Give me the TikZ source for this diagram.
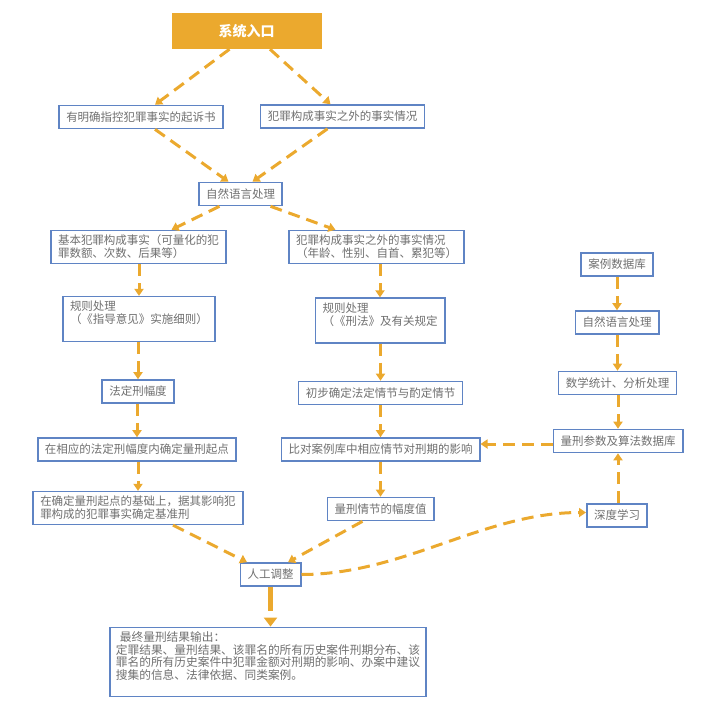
\documentclass[tikz,border=0pt]{standalone}
\usepackage{fontspec}
\setmainfont{Noto Sans CJK SC}
\usepackage{tikz}
\usepackage{xcolor}
\usetikzlibrary{arrows.meta}

\definecolor{flow}{HTML}{EBA92E}
\definecolor{boxline}{HTML}{5F84C4}
\definecolor{txt}{HTML}{707070}

\tikzset{
    box/.style={draw=boxline, line width=1.6pt, fill=white, text=txt,
        font=\fontsize{11.5}{13}\selectfont, inner xsep=7.2pt, inner ysep=4.5pt,
        minimum height=23pt, align=left},
    flowline/.style={draw=flow, line width=3pt, dash pattern=on 12pt off 7pt,
        -{Triangle[width=9pt,length=7pt]}},
}

\begin{document}
\begin{tikzpicture}[x=1pt,y=-1pt]
        \useasboundingbox (0,0) rectangle (701,716);
        %\draw[gray] (0,0) grid[step=50] (701,716);

        \node[fill=flow, minimum width=150pt, minimum height=36pt, text=white,
            font=\fontsize{14}{16}\selectfont\bfseries] (entry) at (246.5,31) {系统入口};
        \node[box] (charge) at (141,117) {有明确指控犯罪事实的起诉书};
        \node[box] (extra) at (342.5,116.5) {犯罪构成事实之外的事实情况};
        \node[box] (nlp) at (240.5,194) {自然语言处理};
        \node[box] (basic) at (138.5,247) {基本犯罪构成事实（可量化的犯\\罪数额、次数、后果等）};
        \node[box] (other) at (376.5,247) {犯罪构成事实之外的事实情况\\（年龄、性别、自首、累犯等）};

        % left column
        \node[box] (ruleL) at (139,319) {规则处理\\（《指导意见》实施细则）\\ \mbox{}};
        \node[box] (rangeL) at (138,391.5) {法定刑幅度};
        \node[box] (start) at (137,449.5) {在相应的法定刑幅度内确定量刑起点};
        \node[box] (base) at (138,508) {在确定量刑起点的基础上，据其影响犯\\罪构成的犯罪事实确定基准刑};

        % middle column
        \node[box] (ruleR) at (380,320.5) {规则处理\\（《刑法》及有关规定\\ \mbox{}};
        \node[box] (prelim) at (380.5,393) {初步确定法定情节与酌定情节};
        \node[box] (compare) at (380.5,449.5) {比对案例库中相应情节对刑期的影响};
        \node[box] (degree) at (380.5,509) {量刑情节的幅度值};

        % right column
        \node[box] (cases) at (617,264.5) {案例数据库};
        \node[box] (nlpR) at (617,322.5) {自然语言处理};
        \node[box] (stats) at (617.5,383) {数学统计、分析处理};
        \node[box] (param) at (618,441) {量刑参数及算法数据库};
        \node[box] (deep) at (617,515.5) {深度学习};

        \node[box] (adjust) at (270.5,574.5) {人工调整};
        \node[box, font=\fontsize{11.7}{12.6}\selectfont, inner xsep=6pt] (result) at (268,662)
            {\hspace{4pt}最终量刑结果输出：\\定罪结果、量刑结果、该罪名的所有历史案件刑期分布、该\\罪名的所有历史案件中犯罪金额对刑期的影响、办案中建议\\搜集的信息、法律依据、同类案例。\\ \mbox{}};

        \draw[flowline] ([xshift=-17pt]entry.south) -- ([xshift=14pt]charge.north);
        \draw[flowline] ([xshift=23.5pt]entry.south) -- ([xshift=-12pt]extra.north);
        \draw[flowline] ([xshift=14pt]charge.south) -- ([xshift=-12pt]nlp.north);
        \draw[flowline] ([xshift=-15pt]extra.south) -- ([xshift=12pt]nlp.north);
        \draw[flowline] ([xshift=-21pt]nlp.south) -- ([xshift=33pt]basic.north);
        \draw[flowline] ([xshift=30pt]nlp.south) -- ([xshift=-41pt]other.north);

        \draw[flowline] (basic.south -| ruleL) -- (ruleL);
        \draw[flowline] (ruleL.south -| rangeL) -- (rangeL);
        \draw[flowline] (rangeL.south -| start) -- (start);
        \draw[flowline] (start.south -| base) -- (base);

        \draw[flowline] (other.south -| ruleR) -- (ruleR);
        \draw[flowline] (ruleR.south -| prelim) -- (prelim);
        \draw[flowline] (prelim) -- (compare);
        \draw[flowline] (compare) -- (degree);

        \draw[flowline] (cases) -- (nlpR);
        \draw[flowline] (nlpR.south -| stats) -- (stats);
        \draw[flowline] (stats.south -| param) -- (param);
        \draw[flowline] (deep.north -| param) -- (param);
        \draw[flowline] ([yshift=-3pt]param.west) -- ([yshift=5.5pt]compare.east);

        \draw[flowline] ([xshift=35pt]base.south) -- ([xshift=-23.5pt]adjust.north);
        \draw[flowline] ([xshift=-18pt]degree.south) -- ([xshift=17.5pt]adjust.north);
        \draw[flowline] (adjust.east) to[out=0,in=180,looseness=0.9] ([yshift=3pt]deep.west);
        \draw[draw=flow, line width=4.5pt, dash pattern=on 24pt off 9pt,
            -{Triangle[width=13pt,length=9pt]}] (adjust) -- (adjust |- result.north);
    \end{tikzpicture}
\end{document}
